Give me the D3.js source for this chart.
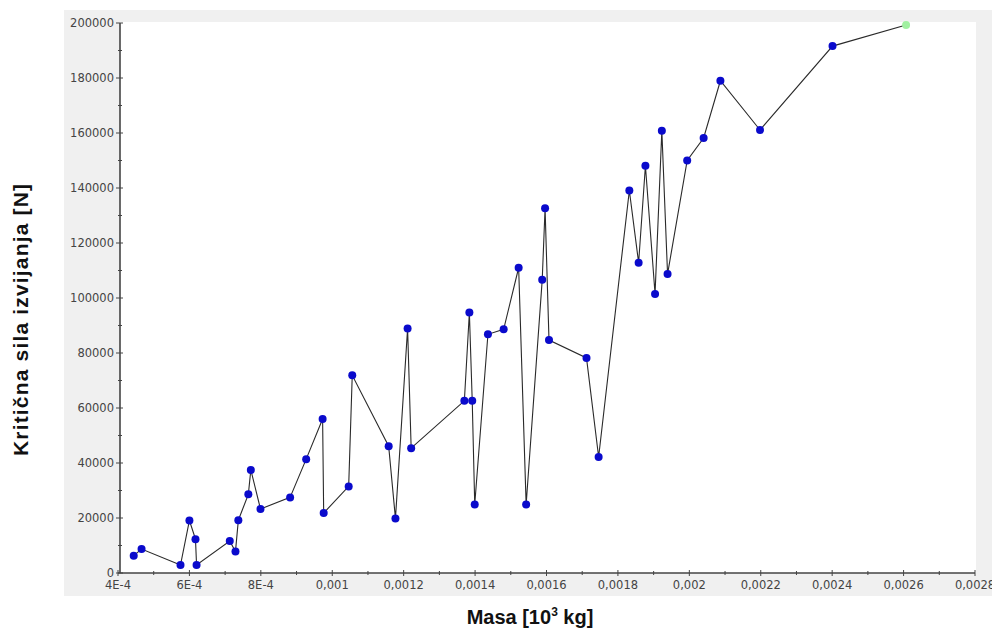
<!DOCTYPE html>
<html><head><meta charset="utf-8">
<script src="https://cdn.jsdelivr.net/npm/d3@7"></script>
<style>body{margin:0;background:#fff;font-family:Arial,"Liberation Sans",sans-serif}</style>
</head><body><svg id="c" width="992" height="631"></svg>
<script>
const masa = [4.44e-4,4.66e-4,5.75e-4,6.0e-4,6.17e-4,6.2e-4,7.13e-4,7.29e-4,7.37e-4,7.65e-4,7.72e-4,7.99e-4,8.82e-4,9.27e-4,9.73e-4,9.76e-4,10.46e-4,10.56e-4,11.58e-4,11.77e-4,12.11e-4,12.21e-4,13.70e-4,13.84e-4,13.92e-4,13.99e-4,14.36e-4,14.80e-4,15.22e-4,15.43e-4,15.88e-4,15.96e-4,16.07e-4,17.12e-4,17.46e-4,18.32e-4,18.58e-4,18.77e-4,19.04e-4,19.23e-4,19.39e-4,19.94e-4,20.40e-4,20.87e-4,21.98e-4,24.01e-4,26.07e-4];
const sila = [6300,8700,2900,19100,12300,2900,11600,7800,19200,28600,37500,23300,27500,41400,56000,21800,31500,71900,46100,19800,88900,45400,62600,94700,62600,24900,86800,88600,111000,24900,106600,132600,84700,78200,42200,139100,112800,148100,101500,160800,108700,150000,158200,179000,161100,191600,199300];
const xTicks = [4e-4,6e-4,8e-4,0.001,0.0012,0.0014,0.0016,0.0018,0.002,0.0022,0.0024,0.0026,0.0028];
const xTickLabels = ["4E-4","6E-4","8E-4","0,001","0,0012","0,0014","0,0016","0,0018","0,002","0,0022","0,0024","0,0026","0,0028"];
const yTicks = [0,20000,40000,60000,80000,100000,120000,140000,160000,180000,200000];

const svg = d3.select("#c");
const L=120, R=976, T=22, B=573;
svg.append("rect").attr("x",64).attr("y",10).attr("width",928).attr("height",586).attr("fill","#f0f0f0");
svg.append("rect").attr("x",L).attr("y",T).attr("width",R-L).attr("height",B-T).attr("fill","#fff");

const x = d3.scaleLinear().domain([4e-4,0.0028]).range([118,975]);
const y = d3.scaleLinear().domain([0,200000]).range([B,T+1]);

const xMinor = d3.range(5e-4,0.0028,2e-4);
const yMinor = d3.range(10000,200000,20000);
const ax = svg.append("g").attr("stroke","#444");
ax.append("line").attr("x1",118).attr("x2",975).attr("y1",B).attr("y2",B).attr("stroke-width",1.6);
ax.append("line").attr("x1",L).attr("x2",L).attr("y1",y(200000)).attr("y2",B).attr("stroke-width",1.6);
xTicks.forEach(v=>ax.append("line").attr("x1",x(v)).attr("x2",x(v)).attr("y1",B-3).attr("y2",B+3));
xMinor.forEach(v=>ax.append("line").attr("x1",x(v)).attr("x2",x(v)).attr("y1",B-2).attr("y2",B+2));
yTicks.forEach(v=>ax.append("line").attr("x1",L-4).attr("x2",L+3).attr("y1",y(v)).attr("y2",y(v)));
yMinor.forEach(v=>ax.append("line").attr("x1",L-2).attr("x2",L+2).attr("y1",y(v)).attr("y2",y(v)));

const tickFont = "'DejaVu Sans',Verdana,sans-serif";
svg.append("g").selectAll("text").data(xTicks).join("text")
  .attr("x",d=>x(d)).attr("y",B+16).attr("text-anchor","middle").attr("font-family",tickFont)
  .attr("font-size",11.5).attr("fill","#444").text((d,i)=>xTickLabels[i]);
svg.append("g").selectAll("text").data(yTicks).join("text")
  .attr("x",L-6).attr("y",d=>y(d)+4).attr("text-anchor","end").attr("font-family",tickFont)
  .attr("font-size",11.5).attr("fill","#444").text(d=>d);

const pts = masa.map((m,i)=>[m,sila[i]]);
svg.append("path").datum(pts).attr("fill","none").attr("stroke","#2a2a2a").attr("stroke-width",1.1)
  .attr("d",d3.line().x(d=>x(d[0])).y(d=>y(d[1])));
svg.append("g").selectAll("circle").data(pts).join("circle")
  .attr("cx",d=>x(d[0])).attr("cy",d=>y(d[1])).attr("r",4)
  .attr("fill",(d,i)=>i===pts.length-1?"#a0f0a0":"#0a0acc");

svg.append("text").attr("transform","translate(28,320) rotate(-90)").attr("text-anchor","middle")
  .attr("font-size",21).attr("font-weight","bold").attr("fill","#111")
  .attr("textLength",272).attr("lengthAdjust","spacing").text("Kritična sila izvijanja [N]");
const t = svg.append("text").attr("x",530).attr("y",624).attr("text-anchor","middle")
  .attr("font-size",20).attr("font-weight","bold").attr("fill","#111");
t.append("tspan").text("Masa [10");
t.append("tspan").attr("font-size",12).attr("dy",-8).text("3");
t.append("tspan").attr("dy",8).text(" kg]");
</script></body></html>
